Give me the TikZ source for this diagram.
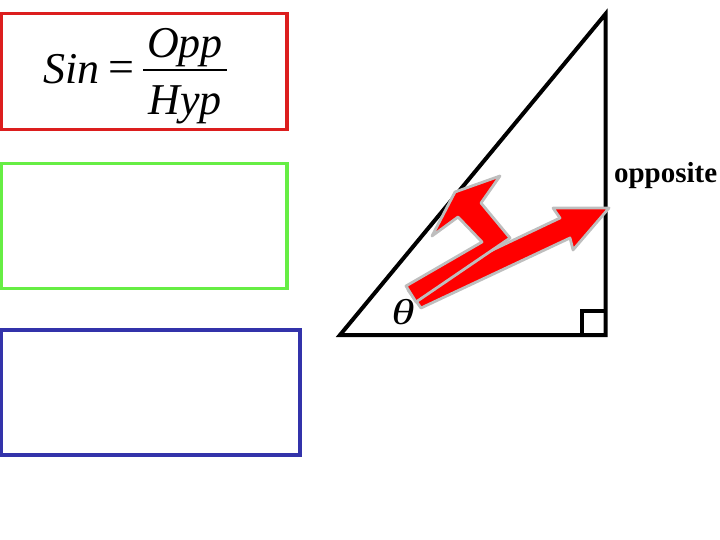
\documentclass[tikz,border=0pt]{standalone}
\usepackage{fontspec}
\setmainfont{Liberation Serif}
\definecolor{boxred}{RGB}{220,30,30}
\definecolor{boxgreen}{RGB}{102,238,68}
\definecolor{boxblue}{RGB}{51,51,170}
\definecolor{arrowred}{RGB}{255,0,0}
\definecolor{arrowgray}{RGB}{190,190,190}
\begin{document}
\begin{tikzpicture}[x=1pt,y=-1pt,
  txt/.style={inner sep=0pt,outer sep=0pt},
  frame/.style={line width=3.5pt},
  fatarrow/.style={fill=arrowred,draw=arrowgray,line width=2.8pt,line join=round},
  tri/.style={line width=4pt,line join=miter}]
\useasboundingbox (0,0) rectangle (720,540);
% boxes
\draw[frame,boxred] (1.5,13.5) rectangle (287,129.5);
\draw[frame,boxgreen] (1.5,163.5) rectangle (287,288.5);
\draw[frame,boxblue] (1.5,330) rectangle (300,455);
% formula
\node[txt,anchor=base west,font=\fontsize{44}{50}\selectfont\itshape] (sin) at (43,84) {Sin};
\node[txt,anchor=center,font=\fontsize{46}{50}\selectfont] (eq) at (121,72) {=};
\node[txt,anchor=base,font=\fontsize{44}{50}\selectfont\itshape] (opp) at (185,58) {Opp};
\node[txt,anchor=base,font=\fontsize{44}{50}\selectfont\itshape] (hyp) at (185,115) {Hyp};
\draw[line width=2pt] (143,70) -- (227,70);
% triangle
\draw[tri] (340,335) -- (605.5,14) -- (605.5,335) -- cycle;
\draw[line width=4pt] (582,335) -- (582,311) -- (605.5,311);
% arrows
\draw[fatarrow] (421,308) -- (408,290) -- (560,218) -- (553,208) -- (609,208)
  -- (573,250) -- (570,238) -- cycle;
\draw[fatarrow] (406,286) -- (482,242) -- (458,217) -- (432,236) -- (455,192)
  -- (500,176) -- (481,203) -- (510,238) -- (416,302) -- cycle;
% labels
\node[txt,anchor=center,xscale=1.3,font=\fontsize{36}{40}\selectfont\itshape] (theta) at (403,312) {θ};
\node[txt,anchor=base west,font=\fontsize{29}{34}\selectfont\bfseries] (opposite) at (614,183) {opposite};
\end{tikzpicture}
\end{document}
